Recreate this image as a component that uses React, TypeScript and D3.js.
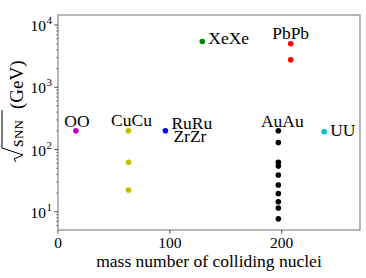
import React from "react";
import * as d3 from "d3";

const systems = ["OO", "CuCu", "RuRu", "XeXe", "AuAu", "PbPb", "UU"];
const massNumbers = [16, 63, 96, 129, 197, 208, 238];
const energies = [
  [200],
  [200, 62.4, 22.4],
  [200],
  [5440],
  [200, 130, 62.4, 54.4, 39, 27, 19.6, 14.5, 11.5, 7.7],
  [5020, 2760],
  [193],
];
const colors = ["#bf00bf", "#bfbf00", "#0000ff", "#008000", "#000000", "#ff0000", "#00bfbf"];

// label placement relative to the first point of each system
const labels = [
  { text: "OO", i: 0, dx: 1, dy: -4, anchor: "middle" },
  { text: "CuCu", i: 1, dx: 3, dy: -5, anchor: "middle" },
  { text: "RuRu", i: 2, dx: 6, dy: -2, anchor: "start" },
  { text: "ZrZr", i: 2, dx: 8, dy: 11.5, anchor: "start" },
  { text: "XeXe", i: 3, dx: 6, dy: 2, anchor: "start" },
  { text: "AuAu", i: 4, dx: 4, dy: -4, anchor: "middle" },
  { text: "PbPb", i: 5, dx: 0, dy: -5, anchor: "middle" },
  { text: "UU", i: 6, dx: 6, dy: 4, anchor: "start" },
];

const xTicks = [0, 100, 200];
const yMajor = [10, 100, 1000, 10000];

const App = () => {
  const width = 366;
  const height = 278;
  const left = 58;
  const right = 360;
  const top = 15;
  const bottom = 230;
  const font = "Liberation Serif, Times New Roman, Times, serif";
  const frame = "#888";

  const x = d3.scaleLinear().domain([0, 270]).range([left, right]);
  const y = d3.scaleLog().domain([5.1, 14500]).range([bottom, top]);

  const minor: number[] = [];
  for (let e = 0; e <= 4; e++) {
    for (let k = 2; k <= 9; k++) {
      const v = k * Math.pow(10, e);
      if (v >= 5.1 && v <= 14500) minor.push(v);
    }
  }

  return (
    <svg
      width={width}
      height={height}
      style={{ position: "absolute", left: 0, top: 0, background: "#fff", fontFamily: font }}
    >
      <rect x={left} y={top} width={right - left} height={bottom - top} fill="none" stroke={frame} strokeWidth={1.2} />
      {xTicks.map((t) => (
        <g key={t}>
          <line x1={x(t)} x2={x(t)} y1={bottom} y2={bottom + 3.5} stroke="#444" />
          <text x={x(t)} y={248} textAnchor="middle" fontSize={15.5}>
            {t}
          </text>
        </g>
      ))}
      {minor.map((v) => (
        <line key={v} x1={left - 2} x2={left} y1={y(v)} y2={y(v)} stroke="#444" strokeWidth={0.6} />
      ))}
      {yMajor.map((v) => (
        <g key={v}>
          <line x1={left - 3.5} x2={left} y1={y(v)} y2={y(v)} stroke="#444" />
          <text x={46} y={y(v) + 6} textAnchor="end" fontSize={15.5}>
            10
          </text>
          <text x={46.5} y={y(v) - 1} textAnchor="start" fontSize={11}>
            {Math.round(Math.log10(v))}
          </text>
        </g>
      ))}
      <text x={(left + right) / 2} y={267} textAnchor="middle" fontSize={17.5}>
        mass number of colliding nuclei
      </text>
      <g transform="translate(23,162) rotate(-90)">
        <path d="M0,-7 L3,-9 L7,0 L14,-21 L52,-21" fill="none" stroke="#000" strokeWidth={1} />
        <text x={15} y={0} fontSize={19}>
          s
        </text>
        <text x={23} y={0} fontSize={13}>
          NN
        </text>
        <text x={53} y={0} fontSize={19}>
          (GeV)
        </text>
      </g>
      {energies.map((vals, i) =>
        vals.map((v, j) => (
          <circle key={`${i}-${j}`} cx={x(massNumbers[i])} cy={y(v)} r={2.8} fill={colors[i]} />
        ))
      )}
      {labels.map((l) => (
        <text
          key={l.text}
          x={x(massNumbers[l.i]) + l.dx}
          y={y(energies[l.i][0]) + l.dy}
          textAnchor={l.anchor}
          fontSize={17.5}
        >
          {l.text}
        </text>
      ))}
    </svg>
  );
};

export default App;
